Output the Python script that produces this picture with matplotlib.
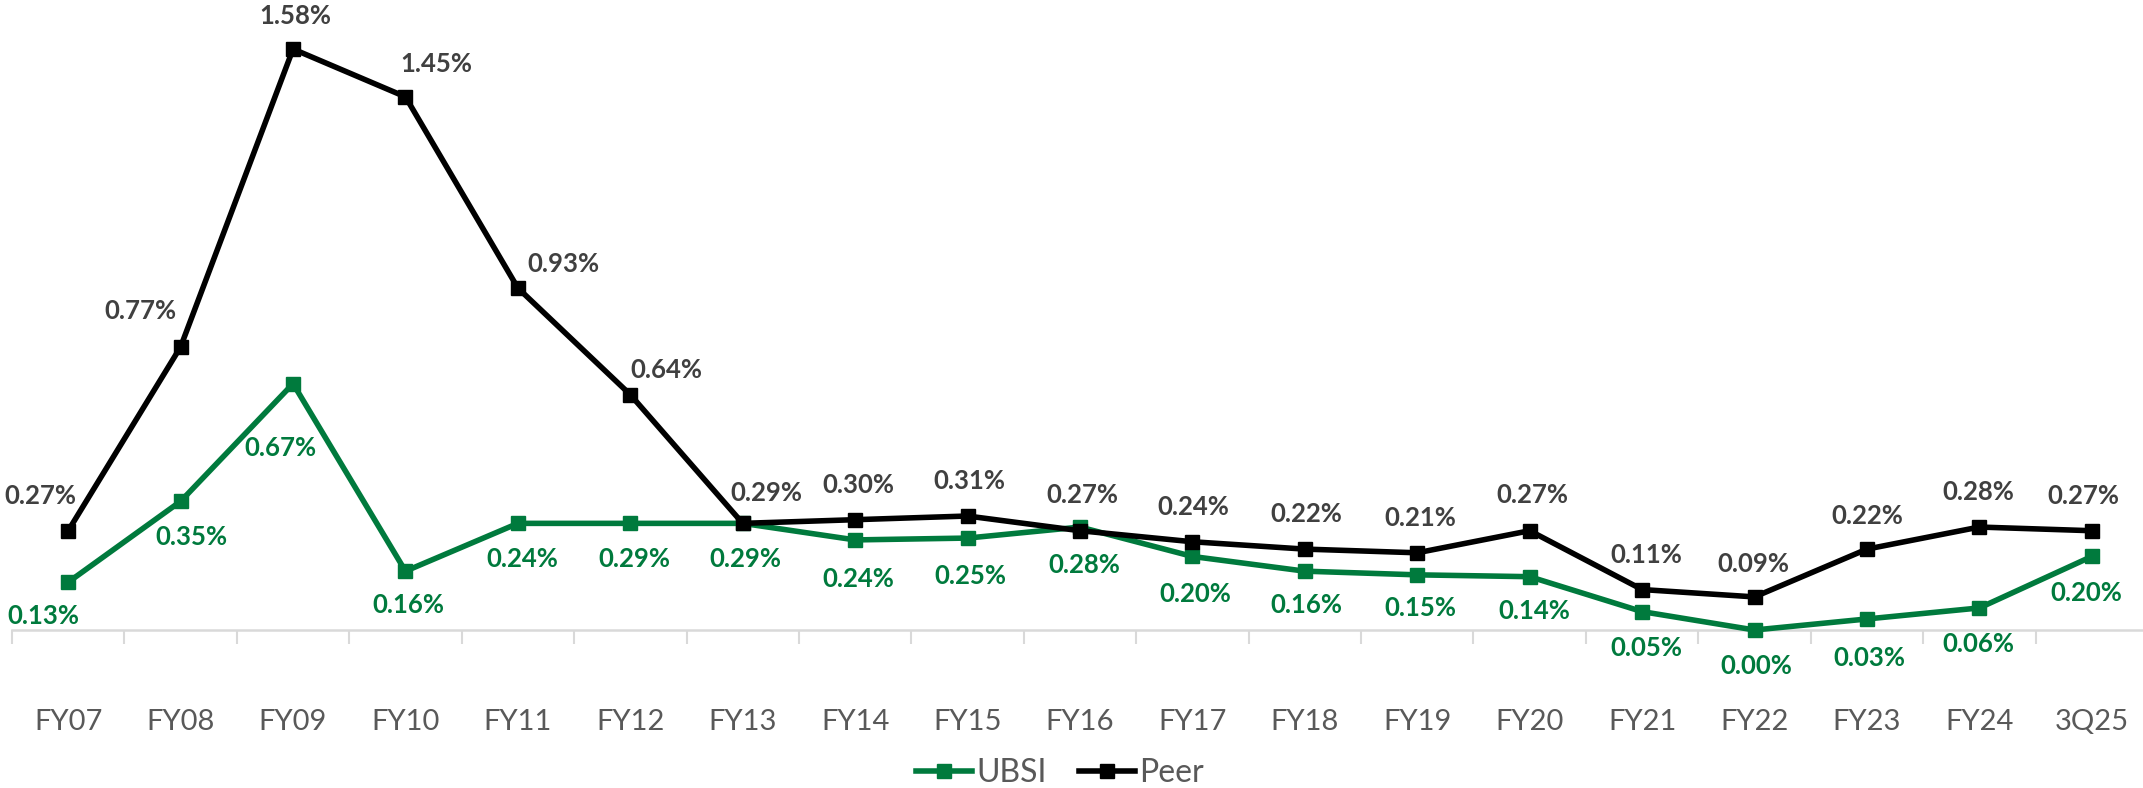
import matplotlib
matplotlib.use("Agg")
import matplotlib.pyplot as plt
from matplotlib.lines import Line2D

# ---- data ----
categories = ["FY07", "FY08", "FY09", "FY10", "FY11", "FY12", "FY13", "FY14", "FY15",
              "FY16", "FY17", "FY18", "FY19", "FY20", "FY21", "FY22", "FY23", "FY24", "3Q25"]
ubsi_values = [0.13, 0.35, 0.67, 0.16, 0.29, 0.29, 0.29, 0.245, 0.25, 0.28, 0.20, 0.16,
               0.15, 0.145, 0.05, 0.00, 0.03, 0.06, 0.20]
ubsi_labels = ["0.13%", "0.35%", "0.67%", "0.16%", "0.24%", "0.29%", "0.29%", "0.24%", "0.25%",
               "0.28%", "0.20%", "0.16%", "0.15%", "0.14%", "0.05%", "0.00%", "0.03%", "0.06%", "0.20%"]
peer_values = [0.27, 0.77, 1.58, 1.45, 0.93, 0.64, 0.29, 0.30, 0.31, 0.27, 0.24, 0.22,
               0.21, 0.27, 0.11, 0.09, 0.22, 0.28, 0.27]
peer_labels = ["0.27%", "0.77%", "1.58%", "1.45%", "0.93%", "0.64%", "0.29%", "0.30%", "0.31%",
               "0.27%", "0.24%", "0.22%", "0.21%", "0.27%", "0.11%", "0.09%", "0.22%", "0.28%", "0.27%"]

# ---- label offsets (points) ----
peer_off = [(-20, 25), (-29, 26), (2, 24), (22, 24), (33, 17), (26, 18), (17, 22), (2, 25), (1, 25),
            (2, 26), (1, 25), (1, 25), (2, 25), (2, 26), (3, 25), (-1, 24), (0, 24), (-1, 25), (-6, 25)]
ubsi_off = [(-18, -24), (8, -26), (-9, -46), (2, -24), (3, -26), (3, -26), (2, -26), (2, -28), (2, -27),
            (3, -27), (2, -27), (1, -24), (2, -24), (3, -25), (3, -26), (1, -26), (2, -28), (-1, -26), (-4, -26)]

GREEN = "#007A3D"
BLACK = "#000000"
TXT = "#595959"
LBL = "#404040"

plt.rcParams['font.family'] = ['Lato', 'DejaVu Sans']

fig = plt.figure(figsize=(21.43, 7.88), dpi=100)
ax = fig.add_axes([12 / 2143, 1 - 630 / 788, 2136 / 2143, 630 / 788])

LW = 4.0
MS = 10
x = list(range(len(categories)))
ax.plot(x, ubsi_values, color=GREEN, lw=LW, marker='s', ms=MS, zorder=3, clip_on=False, label="UBSI")
ax.plot(x, peer_values, color=BLACK, lw=LW, marker='s', ms=MS, zorder=4, clip_on=False, label="Peer")

for i in x:
    ax.annotate(peer_labels[i], (i, peer_values[i]), xytext=peer_off[i], textcoords='offset points',
                ha='center', va='center', fontsize=18.5, fontweight='bold', color=LBL, annotation_clip=False)
    ax.annotate(ubsi_labels[i], (i, ubsi_values[i]), xytext=ubsi_off[i], textcoords='offset points',
                ha='center', va='center', fontsize=18.5, fontweight='bold', color=GREEN, annotation_clip=False)

ax.set_xlim(-0.5, len(categories) - 0.5)
ax.set_ylim(0, 630 / 367.7)
for s in ['top', 'right', 'left']:
    ax.spines[s].set_visible(False)
ax.spines['bottom'].set_color('#D9D9D9')
ax.spines['bottom'].set_linewidth(1.8)
ax.set_yticks([])
ax.set_xticks(x)
ax.set_xticklabels(categories, fontsize=21, color=TXT)
ax.tick_params(axis='x', which='major', length=0, pad=57)
ax.set_xticks([i - 0.5 for i in range(len(categories) + 1)], minor=True)
ax.tick_params(axis='x', which='minor', length=10, width=1.5, color='#D9D9D9', direction='out')

handles = [Line2D([0], [0], color=GREEN, lw=LW, marker='s', ms=MS),
           Line2D([0], [0], color=BLACK, lw=LW, marker='s', ms=MS)]
fig.legend(handles, ["UBSI", "Peer"], loc='center', bbox_to_anchor=(1060 / 2143, 1 - 773 / 788),
           ncol=2, frameon=False, fontsize=23, labelcolor=TXT, handlelength=1.75,
           handletextpad=0.15, columnspacing=1.0, borderpad=0)

fig.savefig("out.png", dpi=100)
